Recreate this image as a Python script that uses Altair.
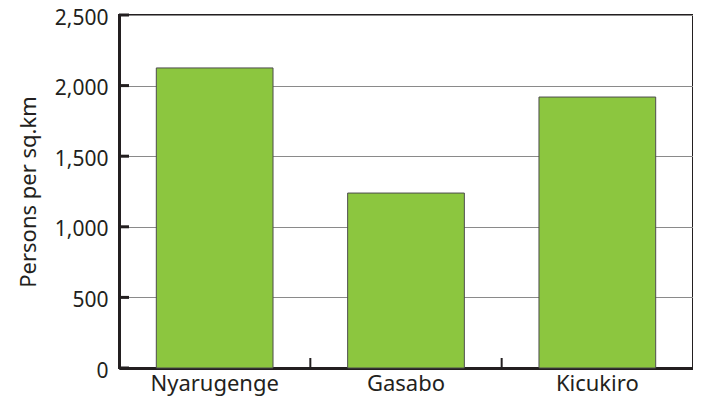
import altair as alt
import pandas as pd

districts = ["Nyarugenge", "Gasabo", "Kicukiro"]
density = [2125, 1239, 1919]
y_ticks = [0, 500, 1000, 1500, 2000, 2500]
boundaries = ["Gasabo", "Kicukiro"]

df = pd.DataFrame({"district": districts, "density": density})
ticks_df = pd.DataFrame({"v": y_ticks})
bound_df = pd.DataFrame({"district": boundaries})

FONT = "Noto Sans"
DARK = "#231F20"
PAD_INNER = 0.39
W, H = 574, 353
STEP = W / 3

xscale = alt.Scale(domain=districts, paddingInner=PAD_INNER, paddingOuter=PAD_INNER / 2)
yscale = alt.Scale(domain=[0, 2500], nice=False)

bars = alt.Chart(df).mark_bar(color="#8CC63F", stroke="#4d4d4d", strokeWidth=1).encode(
    x=alt.X("district:N", scale=xscale, sort=districts,
            axis=alt.Axis(title=None, labelAngle=0, tickSize=0, labelPadding=5,
                          domainColor=DARK, domainWidth=3, labelFontSize=22,
                          labelFont=FONT, labelColor=DARK)),
    y=alt.Y("density:Q", scale=yscale,
            axis=alt.Axis(values=y_ticks, format=",d", title="Persons per sq.km",
                          titleFontSize=22, titleFont=FONT, titleFontWeight="normal",
                          titleColor=DARK, titlePadding=14,
                          labelFontSize=21, labelFont=FONT, labelColor=DARK,
                          labelPadding=11, labelOffset=3, tickSize=0,
                          domainColor=DARK, domainWidth=3,
                          grid=True, gridColor="#8a8a8a", gridWidth=1.2)),
)

yt = alt.Chart(ticks_df).mark_rule(color=DARK, strokeWidth=3).encode(
    y=alt.Y("v:Q", scale=yscale),
    x=alt.value(0),
    x2=alt.value(10),
)

xt = alt.Chart(bound_df).mark_rule(color=DARK, strokeWidth=2,
                                   xOffset=-PAD_INNER * STEP / 2).encode(
    x=alt.X("district:N", scale=xscale, sort=districts, bandPosition=0),
    y=alt.value(H),
    y2=alt.value(H - 10),
)

chart = alt.layer(bars, yt, xt).properties(
    width=W, height=H,
    autosize=alt.AutoSizeParams(type="none"),
    padding={"left": 111, "top": 7, "right": 0, "bottom": 31},
).configure_view(stroke=DARK, strokeWidth=2)

chart.save("out.html", embed_options={"renderer": "svg", "actions": False})
